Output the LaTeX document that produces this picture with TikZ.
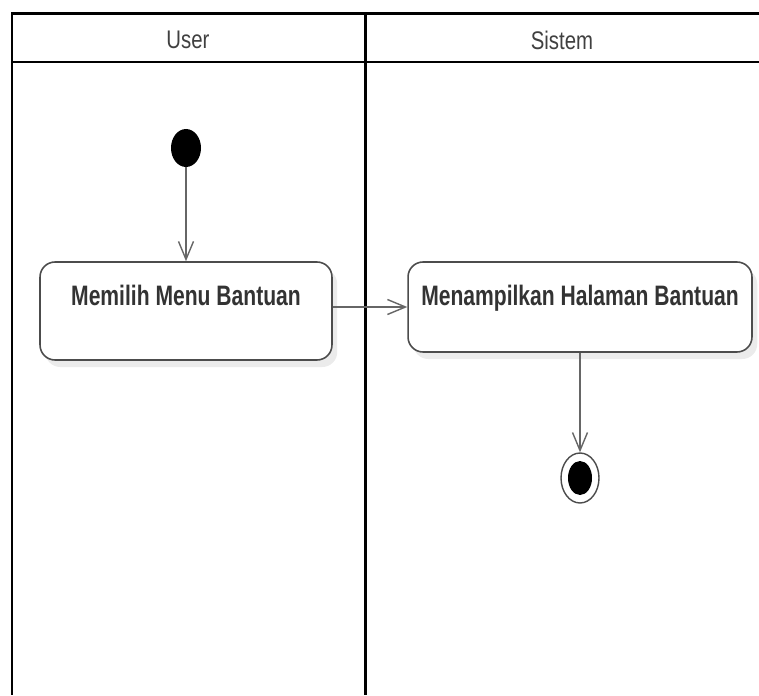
\documentclass[tikz,border=0pt]{standalone}
\usepackage{fontspec}
\setmainfont{Liberation Sans}
\usepackage{graphicx}
\usetikzlibrary{arrows.meta,shapes.geometric,shadows}

% condensed look of the original labels
\newcommand{\narrowtxt}[1]{\scalebox{0.8}[1]{#1}}
\newcommand{\narrowbold}[1]{\scalebox{0.75}[1]{\bfseries #1}}

\tikzset{
  lane/.style={line width=1.7pt, line cap=square},
  lanehead/.style={font=\fontsize{14.5}{16}\selectfont, text=black!75},
  action/.style={draw=black!70, line width=0.9pt, rounded corners=0.3cm, fill=white,
    font=\fontsize{16}{18}\selectfont, text=black!80, inner xsep=0pt, inner ysep=0.3cm,
    text height=0.56cm, drop shadow={shadow xshift=3pt, shadow yshift=-4pt, fill=black!8, opacity=1}},
  flow/.style={draw=black!60, line width=0.8pt, -{Straight Barb[length=0.36cm, width=0.3cm]}},
  initial/.style={ellipse, fill=black, minimum width=0.6cm, minimum height=0.76cm, inner sep=0pt},
  final/.style={ellipse, draw=black!70, line width=0.8pt, fill=white, minimum width=0.76cm,
    minimum height=1.0cm, inner sep=0pt,
    path picture={\fill[black] (path picture bounding box.center) ellipse (0.24cm and 0.34cm);}}
}

\begin{document}
\begin{tikzpicture}[x=0.02cm, y=-0.02cm]
  \useasboundingbox (0,0) rectangle (759,695);

  % --- Swim lanes ---
  \draw[lane] (759,14) -- (12,14) -- (12,695);
  \draw[lane] (12,62) -- (759,62);
  \draw[lane] (365,14) -- (365,695);
  \node[lanehead] (user) at (188,40) {\narrowtxt{User}};
  \node[lanehead] (sistem) at (562,40) {\narrowtxt{Sistem}};

  % --- User ---
  \node[initial] (start) at (186,148) {};
  \node[action, minimum width=5.84cm, text depth=0.8cm] (pilih) at (186,311)
    {\narrowbold{Memilih Menu Bantuan}};

  % --- Sistem ---
  \node[action, minimum width=6.88cm, text depth=0.64cm] (tampil) at (580,307)
    {\narrowbold{Menampilkan Halaman Bantuan}};
  \node[final] (end) at (580,478) {};

  % --- Flow ---
  \draw[flow] (start) -- (pilih);
  \draw[flow] (pilih.east |- tampil.west) -- (tampil.west);
  \draw[flow] (tampil) -- (end);
\end{tikzpicture}
\end{document}
